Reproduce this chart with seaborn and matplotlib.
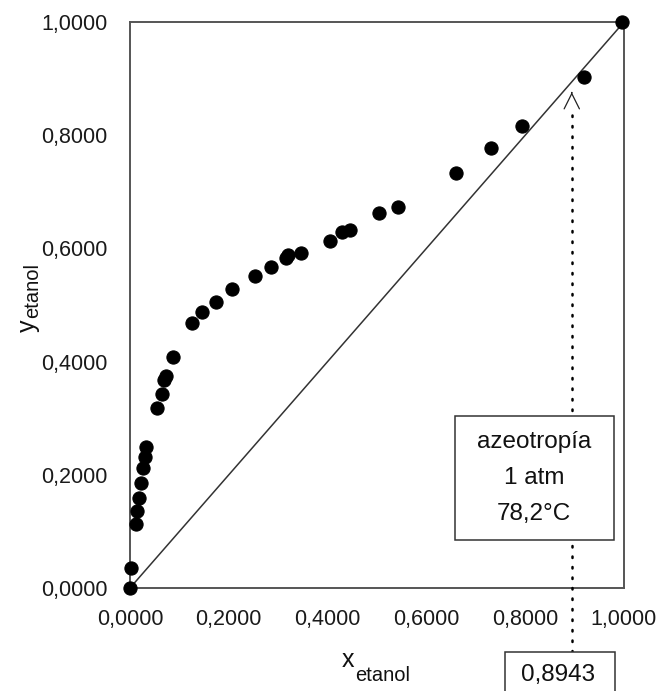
import matplotlib
matplotlib.use("Agg")
import matplotlib.pyplot as plt
import seaborn as sns
import pandas as pd
from matplotlib.patches import Rectangle
from matplotlib.ticker import FuncFormatter

# ---- data ----
x_etanol = [0.000, 0.003, 0.012, 0.015, 0.018, 0.023, 0.026, 0.031, 0.033,
            0.054, 0.064, 0.068, 0.072, 0.087, 0.125, 0.145, 0.175, 0.206,
            0.253, 0.285, 0.315, 0.320, 0.346, 0.405, 0.430, 0.445, 0.505,
            0.542, 0.659, 0.730, 0.794, 0.919, 0.996]
y_etanol = [0.000, 0.035, 0.113, 0.136, 0.159, 0.186, 0.212, 0.232, 0.250,
            0.318, 0.342, 0.367, 0.374, 0.408, 0.469, 0.488, 0.505, 0.529,
            0.552, 0.568, 0.583, 0.588, 0.591, 0.613, 0.629, 0.632, 0.662,
            0.673, 0.733, 0.777, 0.816, 0.903, 1.000]
diag = [0.0, 1.0]
x_azeo = 0.8943
ticks = [0.0, 0.2, 0.4, 0.6, 0.8, 1.0]
box_lines = ["azeotropía", "1 atm", "78,2°C"]
azeo_label = "0,8943"

df = pd.DataFrame({"x": x_etanol, "y": y_etanol})

sns.set_theme(style="white")
plt.rcParams["font.family"] = ["Liberation Sans", "DejaVu Sans"]

W, H = 657, 691
fig = plt.figure(figsize=(W / 100, H / 100), dpi=100)
ax = fig.add_axes([130 / W, 1 - 588 / H, (624 - 130) / W, (588 - 22) / H])

ax.plot(diag, diag, color="#333333", lw=1.1, zorder=2)
sns.scatterplot(data=df, x="x", y="y", ax=ax, color="black", s=90,
                edgecolor="black", linewidth=0.8, zorder=3, clip_on=False,
                legend=False)

ax.set_xlim(0, 1)
ax.set_ylim(0, 1)
ax.set_xticks(ticks)
ax.set_yticks(ticks)
fmt = FuncFormatter(lambda v, p: f"{v:.4f}".replace(".", ","))
ax.xaxis.set_major_formatter(fmt)
ax.yaxis.set_major_formatter(fmt)
ax.tick_params(axis="both", length=0, labelsize=15.5, labelcolor="#1a1a1a")
ax.tick_params(axis="x", pad=15)
ax.tick_params(axis="y", pad=16)
ax.set_xlabel("")
ax.set_ylabel("")
for s in ax.spines.values():
    s.set_color("#555555")
    s.set_linewidth(1.4)
    s.set_visible(True)

# axis labels with subscripts
fig.text(348 / W, 1 - 667 / H, "x", fontsize=18, ha="center", va="baseline", color="#111111")
fig.text(383 / W, 1 - 681 / H, "etanol", fontsize=14.5, ha="center", va="baseline", color="#111111")
fig.text(28 / W, 1 - 326 / H, "y", fontsize=18, ha="center", va="center", rotation=90, color="#111111")
fig.text(33 / W, 1 - 290 / H, "etanol", fontsize=14.5, ha="center", va="center", rotation=90, color="#111111")

# dotted azeotrope line with open arrow head
y_tip = 0.876
ax.plot([x_azeo, x_azeo], [-0.113, y_tip - 0.032], color="black", lw=1.8,
        ls=(0, (0.6, 3.6)), dash_capstyle="round", clip_on=False, zorder=4)
ax.annotate("", xy=(x_azeo, y_tip), xytext=(x_azeo, y_tip - 0.001),
            arrowprops=dict(arrowstyle="->,head_length=1.1,head_width=0.55",
                            mutation_scale=10, lw=0.9, color="#222222",
                            shrinkA=0, shrinkB=0),
            annotation_clip=False, zorder=5)

# text box
fig.patches.append(Rectangle((455 / W, 1 - 540 / H), 159 / W, 124 / H,
                             transform=fig.transFigure, fc="white",
                             ec="#333333", lw=1.1, zorder=6))
for i, t in enumerate(box_lines):
    fig.text(534 / W, 1 - (442 + 36 * i) / H, t, fontsize=17.5, ha="center",
             va="center", color="#111111", zorder=7)

# bottom value box
fig.patches.append(Rectangle((505 / W, 1 - 700 / H), 110 / W, 48 / H,
                             transform=fig.transFigure, fc="white",
                             ec="#333333", lw=1.1, zorder=6))
fig.text(558 / W, 1 - 675 / H, azeo_label, fontsize=17.5, ha="center",
         va="center", color="#111111", zorder=7)

fig.savefig("out.png", dpi=100)
